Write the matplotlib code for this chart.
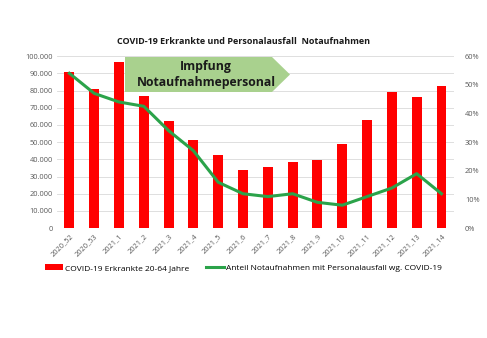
import numpy as np
import matplotlib
matplotlib.use('Agg')
import matplotlib.pyplot as plt
from matplotlib.patches import Polygon
from matplotlib.ticker import FuncFormatter, PercentFormatter

# Daten
wochen = ['2020_52', '2020_53', '2021_1', '2021_2', '2021_3', '2021_4', '2021_5', '2021_6',
          '2021_7', '2021_8', '2021_9', '2021_10', '2021_11', '2021_12', '2021_13', '2021_14']
erkrankte = [91000, 81000, 96500, 77000, 62000, 51000, 42500, 34000,
             35500, 38500, 39500, 49000, 63000, 79000, 76500, 82500]
anteil = [0.54, 0.47, 0.44, 0.425, 0.34, 0.27, 0.16, 0.12,
          0.11, 0.12, 0.09, 0.08, 0.11, 0.14, 0.19, 0.12]

plt.rcParams['font.family'] = ['Open Sans', 'DejaVu Sans']

W, H = 487, 338
fig = plt.figure(figsize=(W / 100, H / 100), dpi=100)
ax = fig.add_axes([0.117, 0.325, 0.815, 0.509])
x = np.arange(len(wochen))

ax.bar(x, erkrankte, width=0.4, color='#ff0000', zorder=2, label='COVID-19 Erkrankte 20-64 Jahre')
ax.set_ylim(0, 100000)
ax.set_yticks(np.arange(0, 100001, 10000))
ax.yaxis.set_major_formatter(FuncFormatter(lambda v, p: f'{int(v):,}'.replace(',', '.')))
ax.set_xlim(-0.5, len(wochen) - 0.5)
ax.set_xticks(x)
ax.set_xticklabels(wochen, rotation=45, ha='right', rotation_mode='anchor')
ax.grid(axis='y', color='#d9d9d9', linewidth=0.6, zorder=0)
ax.tick_params(length=0, labelsize=5.3, colors='#595959', pad=3)

ax2 = ax.twinx()
ax2.plot(x, anteil, color='#2ba34a', linewidth=2.2, zorder=3,
         label='Anteil Notaufnahmen mit Personalausfall wg. COVID-19')
ax2.set_ylim(0, 0.6)
ax2.set_yticks(np.arange(0, 0.61, 0.1))
ax2.yaxis.set_major_formatter(PercentFormatter(1.0, decimals=0))
ax2.tick_params(length=0, labelsize=5.3, colors='#595959', pad=8)

for a in (ax, ax2):
    for s in a.spines.values():
        s.set_visible(False)

# Pfeil-Kasten "Impfung Notaufnahmepersonal"
ecken = [(125, 57), (272, 57), (290, 74.5), (272, 92), (125, 92)]
pfeil = Polygon([(px / W, 1 - py / H) for px, py in ecken], closed=True,
                transform=fig.transFigure, facecolor='#a9d18e', edgecolor='none', zorder=5)
fig.add_artist(pfeil)
fig.text(206 / W, 1 - 74.5 / H, 'Impfung\nNotaufnahmepersonal', ha='center', va='center',
         fontsize=8.8, fontweight='bold', color='#1a1a1a', linespacing=1.3, zorder=6)

fig.text(0.5, 1 - 42 / H, 'COVID-19 Erkrankte und Personalausfall  Notaufnahmen',
         ha='center', va='center', fontsize=6.5, fontweight='bold', color='#1a1a1a')

h1, l1 = ax.get_legend_handles_labels()
h2, l2 = ax2.get_legend_handles_labels()
fig.legend(h1 + h2, l1 + l2, loc='center', bbox_to_anchor=(0.5, 1 - 268 / H), ncol=2,
           frameon=False, fontsize=6, handlelength=2.2, handletextpad=0.2, columnspacing=2)

fig.savefig('out.png', dpi=100)
